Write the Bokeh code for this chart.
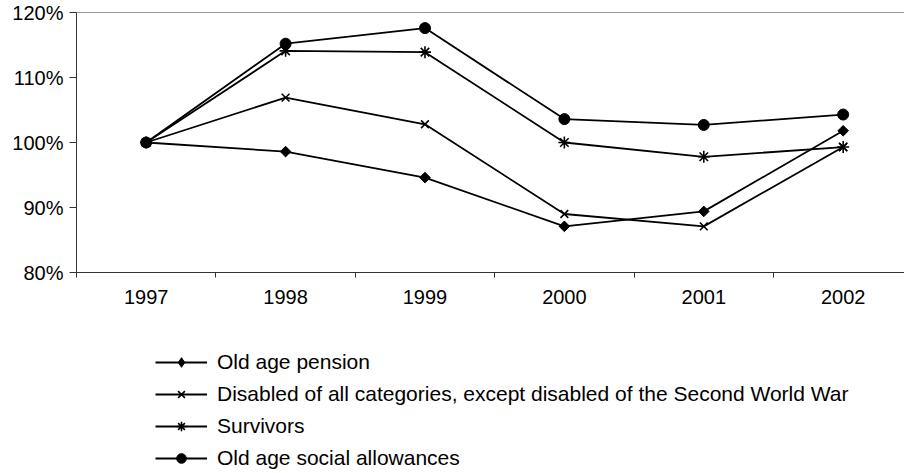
from bokeh.plotting import figure
from bokeh.layouts import column
from bokeh.models import (Range1d, FixedTicker, Span, Legend, LegendItem,
                          PrintfTickFormatter, CustomJSTickFormatter)
from bokeh.embed import file_html
from bokeh.resources import INLINE

years = ["1997", "1998", "1999", "2000", "2001", "2002"]
old_age_pension = [100.0, 98.6, 94.6, 87.1, 89.4, 101.8]
disabled = [100.0, 106.9, 102.8, 89.0, 87.1, 99.3]
survivors = [100.0, 114.1, 113.9, 100.0, 97.8, 99.3]
social_allowances = [100.0, 115.2, 117.6, 103.6, 102.7, 104.3]
y_ticks = [80, 90, 100, 110, 120]

labels = ["Old age pension",
          "Disabled of all categories, except disabled of the Second World War",
          "Survivors",
          "Old age social allowances"]

FONT = "Liberation Sans"
FS = "20px"
LFS = "21px"

xs = list(range(len(years)))

H1 = 320
p = figure(width=904, height=H1, output_backend="svg", toolbar_location=None,
           x_range=Range1d(-0.5, 5.44), y_range=Range1d(80, 120),
           min_border_left=76, min_border_top=12, min_border_right=0,
           min_border_bottom=48)
p.outline_line_color = None
p.xgrid.visible = False
p.ygrid.visible = False
p.background_fill_color = "white"
p.border_fill_color = "white"

# x axis
p.xaxis.ticker = FixedTicker(ticks=xs, minor_ticks=[i - 0.5 for i in range(len(years) + 1)])
p.xaxis.formatter = CustomJSTickFormatter(args=dict(labels=years),
                                          code="return labels[Math.round(tick)] || '';")
p.xaxis.major_tick_line_color = None
p.xaxis.major_tick_out = 5
p.xaxis.major_tick_in = 0
p.xaxis.minor_tick_out = 5
p.xaxis.minor_tick_in = 0
p.xaxis.minor_tick_line_color = "#333333"
p.xaxis.axis_line_color = "#333333"
p.xaxis.major_label_standoff = 12
p.xaxis.major_label_text_font = FONT
p.xaxis.major_label_text_font_size = FS
p.xaxis.major_label_text_color = "black"

# y axis
p.yaxis.ticker = FixedTicker(ticks=y_ticks)
p.yaxis.formatter = PrintfTickFormatter(format="%d%%")
p.yaxis.major_tick_out = 7
p.yaxis.major_tick_in = 0
p.yaxis.minor_tick_line_color = None
p.yaxis.major_tick_line_color = "#333333"
p.yaxis.axis_line_color = "#333333"
p.yaxis.major_label_standoff = 6
p.yaxis.major_label_text_font = FONT
p.yaxis.major_label_text_font_size = FS
p.yaxis.major_label_text_color = "black"

p.add_layout(Span(location=120, dimension="width", line_color="#333333", line_width=1))

series = [old_age_pension, disabled, survivors, social_allowances]
markers = [
    dict(marker="square", size=7.5, angle=0.785398, fill_color="black", line_color="black", line_width=1),
    dict(marker="x", size=11, line_color="black", line_width=1.6),
    dict(marker="asterisk", size=12, line_color="black", line_width=1.6),
    dict(marker="circle", size=11, fill_color="black", line_color="black", line_width=1),
]
legend_markers = [
    dict(marker="diamond", size=11, fill_color="black", line_color="black", line_width=1),
    dict(marker="x", size=10, line_color="black", line_width=1.6),
    dict(marker="asterisk", size=11, line_color="black", line_width=1.6),
    dict(marker="circle", size=10, fill_color="black", line_color="black", line_width=1),
]

for ys, mk in zip(series, markers):
    p.line(xs, ys, line_color="black", line_width=1.8)
    p.scatter(xs, ys, **mk)

# legend panel (separate figure below the chart; its glyphs lie outside its view)
H2 = 473 - H1
p2 = figure(width=904, height=H2, output_backend="svg", toolbar_location=None,
            x_range=Range1d(1000, 1001), y_range=Range1d(1000, 1001),
            min_border=0)
p2.axis.visible = False
p2.grid.visible = False
p2.outline_line_color = None
p2.background_fill_color = "white"
p2.border_fill_color = "white"

items = []
for ys, mk, lab in zip(series, legend_markers, labels):
    ln = p2.line(xs, ys, line_color="black", line_width=1.8)
    sc = p2.scatter(xs, ys, **mk)
    items.append(LegendItem(label=lab, renderers=[ln, sc]))

legend = Legend(items=items, location=(79, 3),
                glyph_width=52, glyph_height=24, label_height=24,
                label_standoff=10, spacing=8, padding=0, margin=0,
                label_text_font=FONT, label_text_font_size=LFS,
                label_text_color="black",
                background_fill_alpha=0, border_line_color=None)
p2.add_layout(legend, "center")

layout = column(p, p2, spacing=0)
open("out.html", "w").write(file_html(layout, INLINE))
